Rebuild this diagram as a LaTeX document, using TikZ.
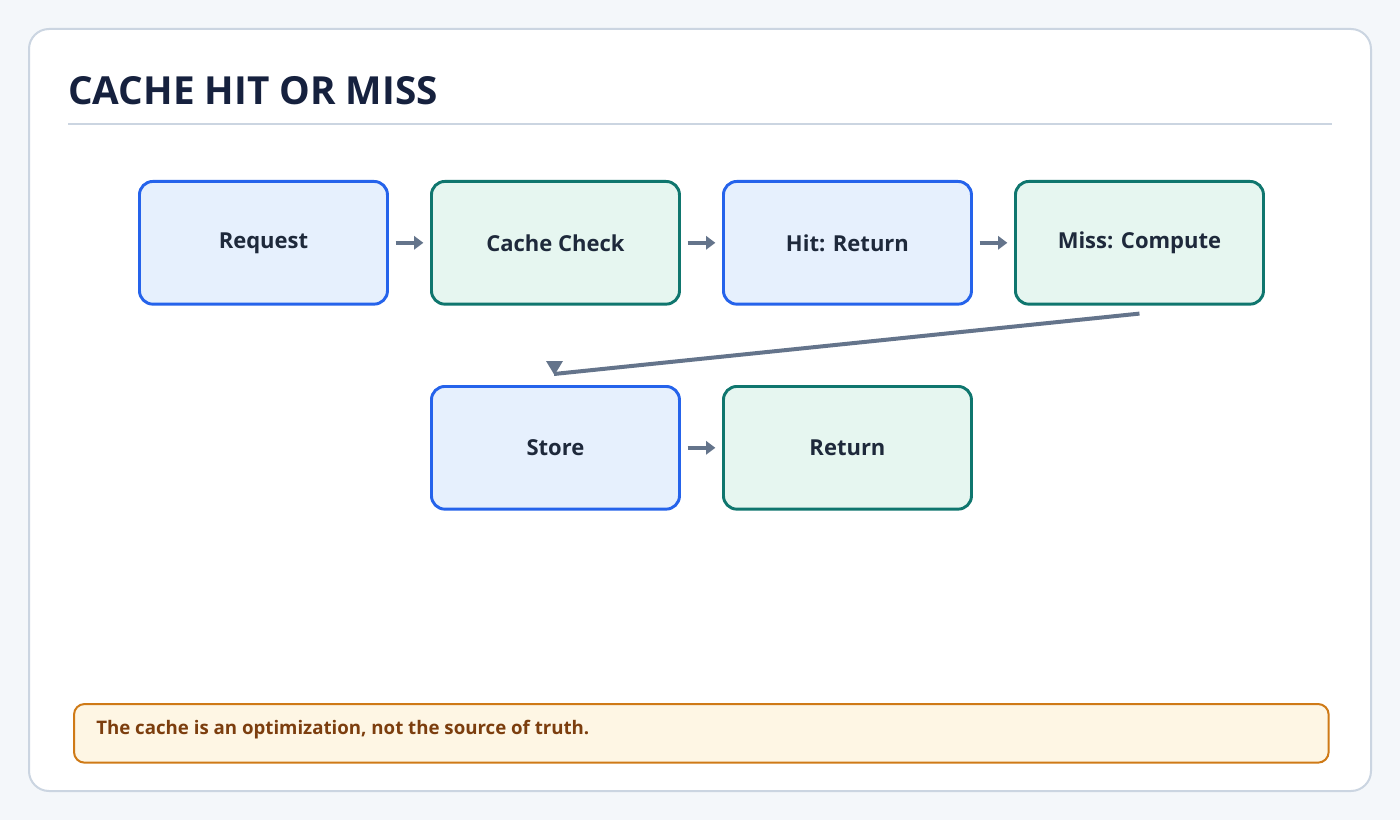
\documentclass[tikz,border=0pt]{standalone}
\usepackage{fontspec}
\setmainfont{Open Sans}
\usetikzlibrary{arrows.meta}
\definecolor{bg}{HTML}{F4F7FA}
\definecolor{cardb}{HTML}{CBD5E1}
\definecolor{ttl}{HTML}{16213E}
\definecolor{txt}{HTML}{1E293B}
\definecolor{bb}{HTML}{2563EB}
\definecolor{bf}{HTML}{E6F0FD}
\definecolor{gb}{HTML}{0F766E}
\definecolor{gf}{HTML}{E6F6F0}
\definecolor{arr}{HTML}{64748B}
\definecolor{nf}{HTML}{FEF6E4}
\definecolor{nb}{HTML}{CF7A17}
\definecolor{nt}{HTML}{7C3E0E}
\begin{document}
\begin{tikzpicture}[x=0.75pt,y=-0.75pt,
  box/.style={rounded corners=10pt,line width=2.2pt,minimum width=186pt,minimum height=92pt,font=\fontsize{16.5}{20}\selectfont\bfseries,text=txt,anchor=north west},
  blue/.style={box,draw=bb,fill=bf},
  green/.style={box,draw=gb,fill=gf},
  con/.style={draw=arr,line width=3pt,-{Triangle[length=7pt,width=10pt]}}]
\useasboundingbox (0,0) rectangle (1400,820);
\fill[bg] (0,0) rectangle (1400,820);
\draw[fill=white,draw=cardb,line width=1.5pt,rounded corners=15pt] (29,29) rectangle (1371,791);
\node[anchor=base west,inner sep=0,text=ttl,font=\fontsize{29}{34}\selectfont\bfseries] (title) at (68,105) {CACHE HIT OR MISS};
\draw[cardb,line width=1.5pt] (68,124) -- (1332,124);
\node[blue] (req) at (138,180) {Request};
\node[green] (chk) at (430,180) {Cache Check};
\node[blue] (hit) at (722,180) {Hit: Return};
\node[green] (miss) at (1014,180) {Miss: Compute};
\node[blue] (store) at (430,385) {Store};
\node[green] (ret) at (722,385) {Return};
\draw[con] ([xshift=5pt]req.east) -- ([xshift=-5pt]chk.west);
\draw[con] ([xshift=5pt]chk.east) -- ([xshift=-5pt]hit.west);
\draw[con] ([xshift=5pt]hit.east) -- ([xshift=-5pt]miss.west);
\draw[con] ([xshift=5pt]store.east) -- ([xshift=-5pt]ret.west);
\coordinate (bend) at (554,374);
\draw[arr,line width=3pt] ([yshift=-6pt]miss.south) -- (bend);
\fill[arr] (546,361) -- (563,361) -- (554.5,375) -- cycle;
\node[draw=nb,fill=nf,line width=1.5pt,rounded corners=8pt,anchor=north west,minimum width=941pt,minimum height=44pt] (note) at (73,703) {};
\node[anchor=west,text=nt,font=\fontsize{14}{17}\selectfont\bfseries,inner sep=0] (notet) at (96,730) {The cache is an optimization, not the source of truth.};
\end{tikzpicture}
\end{document}
